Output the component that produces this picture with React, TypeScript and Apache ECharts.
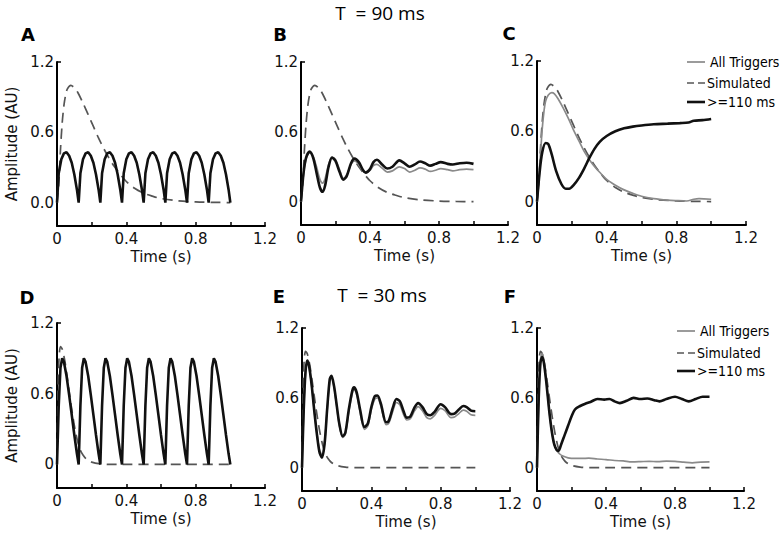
import React, { useEffect, useRef } from "react";
import * as echarts from "echarts";

// ---------- data ----------
const xTickLabels = [0, 0.4, 0.8, 1.2];
const yTickLabels = [0, 0.6, 1.2];
const panelLetters = ["A", "B", "C", "D", "E", "F"];
const legendNames = ["All Triggers", "Simulated", ">=110 ms"];
const titleTexts = ["T  = 90 ms", "T  = 30 ms"];

// simulated response, T = 90 ms (A, B, C)
const simulated90 = [
  [0, 0], [0.01, 0.15], [0.02, 0.45], [0.03, 0.68], [0.04, 0.83], [0.05, 0.92], [0.06, 0.97],
  [0.08, 1.0], [0.1, 0.98], [0.12, 0.94], [0.15, 0.85], [0.18, 0.75], [0.21, 0.65], [0.24, 0.55],
  [0.27, 0.46], [0.3, 0.38], [0.33, 0.31], [0.36, 0.25], [0.4, 0.18], [0.45, 0.12], [0.5, 0.08],
  [0.55, 0.055], [0.6, 0.035], [0.7, 0.015], [0.8, 0.006], [0.9, 0.002], [1.0, 0],
];

// simulated response, T = 30 ms (D, E, F)
const simulated30 = [
  [0, 0], [0.005, 0.5], [0.01, 0.85], [0.02, 1.0], [0.03, 0.98], [0.045, 0.88], [0.06, 0.73],
  [0.075, 0.57], [0.09, 0.42], [0.105, 0.29], [0.12, 0.19], [0.135, 0.12], [0.15, 0.08],
  [0.17, 0.045], [0.2, 0.02], [0.25, 0.005], [0.3, 0], [1.0, 0],
];

// A: periodic stimulus, T = 90 ms
const aTriggered = [
  [0, 0], [0.01, 0.25], [0.025, 0.37], [0.04, 0.42], [0.055, 0.43], [0.07, 0.4], [0.085, 0.34], [0.1, 0.24], [0.115, 0.11],
  [0.125, 0], [0.135, 0.25], [0.15, 0.37], [0.165, 0.42], [0.18, 0.43], [0.195, 0.4], [0.21, 0.34], [0.225, 0.24], [0.24, 0.11],
  [0.25, 0], [0.26, 0.25], [0.275, 0.37], [0.29, 0.42], [0.305, 0.43], [0.32, 0.4], [0.335, 0.34], [0.35, 0.24], [0.365, 0.11],
  [0.375, 0], [0.385, 0.25], [0.4, 0.37], [0.415, 0.42], [0.43, 0.43], [0.445, 0.4], [0.46, 0.34], [0.475, 0.24], [0.49, 0.11],
  [0.5, 0], [0.51, 0.25], [0.525, 0.37], [0.54, 0.42], [0.555, 0.43], [0.57, 0.4], [0.585, 0.34], [0.6, 0.24], [0.615, 0.11],
  [0.625, 0], [0.635, 0.25], [0.65, 0.37], [0.665, 0.42], [0.68, 0.43], [0.695, 0.4], [0.71, 0.34], [0.725, 0.24], [0.74, 0.11],
  [0.75, 0], [0.76, 0.25], [0.775, 0.37], [0.79, 0.42], [0.805, 0.43], [0.82, 0.4], [0.835, 0.34], [0.85, 0.24], [0.865, 0.11],
  [0.875, 0], [0.885, 0.25], [0.9, 0.37], [0.915, 0.42], [0.93, 0.43], [0.945, 0.4], [0.96, 0.34], [0.975, 0.24], [0.99, 0.11],
  [1.0, 0],
];

const bAll = [
  [0, 0], [0.015, 0.24], [0.03, 0.37], [0.05, 0.42], [0.07, 0.39], [0.09, 0.3], [0.11, 0.19], [0.125, 0.16],
  [0.14, 0.2], [0.16, 0.32], [0.18, 0.38], [0.2, 0.36], [0.225, 0.27], [0.245, 0.2], [0.265, 0.23], [0.29, 0.32],
  [0.31, 0.35], [0.335, 0.32], [0.36, 0.26], [0.375, 0.25], [0.4, 0.27], [0.42, 0.31], [0.44, 0.32], [0.47, 0.29],
  [0.5, 0.255], [0.53, 0.265], [0.57, 0.3], [0.6, 0.285], [0.63, 0.255], [0.66, 0.27], [0.69, 0.29], [0.72, 0.28],
  [0.75, 0.26], [0.78, 0.27], [0.81, 0.285], [0.85, 0.275], [0.88, 0.265], [0.92, 0.275], [0.96, 0.28], [1.0, 0.275],
];
const bTriggered = [
  [0, 0], [0.015, 0.25], [0.03, 0.38], [0.05, 0.43], [0.07, 0.38], [0.09, 0.25], [0.11, 0.12], [0.125, 0.085],
  [0.14, 0.14], [0.16, 0.3], [0.18, 0.38], [0.2, 0.35], [0.225, 0.25], [0.245, 0.19], [0.265, 0.22], [0.29, 0.33],
  [0.31, 0.37], [0.335, 0.34], [0.36, 0.27], [0.375, 0.25], [0.4, 0.28], [0.42, 0.34], [0.44, 0.36], [0.47, 0.32],
  [0.5, 0.285], [0.53, 0.3], [0.57, 0.355], [0.6, 0.33], [0.63, 0.3], [0.66, 0.32], [0.69, 0.345], [0.72, 0.33],
  [0.75, 0.31], [0.78, 0.325], [0.81, 0.34], [0.85, 0.325], [0.88, 0.32], [0.92, 0.33], [0.96, 0.335], [1.0, 0.325],
];

const cAll = [
  [0, 0], [0.01, 0.15], [0.02, 0.4], [0.03, 0.62], [0.04, 0.77], [0.05, 0.86], [0.065, 0.91], [0.085, 0.93],
  [0.1, 0.92], [0.12, 0.88], [0.15, 0.8], [0.18, 0.71], [0.21, 0.61], [0.24, 0.52], [0.27, 0.43], [0.3, 0.36],
  [0.33, 0.3], [0.36, 0.25], [0.4, 0.19], [0.45, 0.14], [0.5, 0.1], [0.55, 0.07], [0.6, 0.045], [0.67, 0.025],
  [0.75, 0.012], [0.8, 0.008], [0.86, 0.005], [0.9, 0.02], [0.93, 0.025], [1.0, 0.02],
];
const cTriggered = [
  [0, 0], [0.015, 0.25], [0.03, 0.42], [0.05, 0.5], [0.065, 0.49], [0.085, 0.4], [0.11, 0.26], [0.14, 0.15],
  [0.165, 0.11], [0.185, 0.11], [0.21, 0.14], [0.24, 0.2], [0.27, 0.28], [0.3, 0.37], [0.33, 0.45], [0.36, 0.51],
  [0.4, 0.56], [0.45, 0.6], [0.5, 0.625], [0.55, 0.64], [0.6, 0.65], [0.67, 0.66], [0.75, 0.665], [0.82, 0.67],
  [0.87, 0.675], [0.9, 0.69], [0.95, 0.695], [1.0, 0.705],
];

// D: periodic stimulus, T = 30 ms
const dTriggered = [
  [0, 0], [0.01, 0.5], [0.02, 0.82], [0.03, 0.9], [0.04, 0.87], [0.055, 0.75], [0.07, 0.59], [0.085, 0.42], [0.1, 0.25], [0.115, 0.09],
  [0.125, 0], [0.135, 0.5], [0.145, 0.82], [0.155, 0.9], [0.165, 0.87], [0.18, 0.75], [0.195, 0.59], [0.21, 0.42], [0.225, 0.25], [0.24, 0.09],
  [0.25, 0], [0.26, 0.5], [0.27, 0.82], [0.28, 0.9], [0.29, 0.87], [0.305, 0.75], [0.32, 0.59], [0.335, 0.42], [0.35, 0.25], [0.365, 0.09],
  [0.375, 0], [0.385, 0.5], [0.395, 0.82], [0.405, 0.9], [0.415, 0.87], [0.43, 0.75], [0.445, 0.59], [0.46, 0.42], [0.475, 0.25], [0.49, 0.09],
  [0.5, 0], [0.51, 0.5], [0.52, 0.82], [0.53, 0.9], [0.54, 0.87], [0.555, 0.75], [0.57, 0.59], [0.585, 0.42], [0.6, 0.25], [0.615, 0.09],
  [0.625, 0], [0.635, 0.5], [0.645, 0.82], [0.655, 0.9], [0.665, 0.87], [0.68, 0.75], [0.695, 0.59], [0.71, 0.42], [0.725, 0.25], [0.74, 0.09],
  [0.75, 0], [0.76, 0.5], [0.77, 0.82], [0.78, 0.9], [0.79, 0.87], [0.805, 0.75], [0.82, 0.59], [0.835, 0.42], [0.85, 0.25], [0.865, 0.09],
  [0.875, 0], [0.885, 0.5], [0.895, 0.82], [0.905, 0.9], [0.915, 0.87], [0.93, 0.75], [0.945, 0.59], [0.96, 0.42], [0.975, 0.25], [0.99, 0.09],
  [1.0, 0],
];

const eAll = [
  [0, 0], [0.01, 0.5], [0.02, 0.8], [0.03, 0.9], [0.04, 0.87], [0.055, 0.71], [0.07, 0.5], [0.085, 0.31], [0.1, 0.16],
  [0.115, 0.11], [0.13, 0.21], [0.145, 0.49], [0.16, 0.74], [0.17, 0.77], [0.185, 0.69], [0.2, 0.53], [0.215, 0.37],
  [0.235, 0.26], [0.25, 0.29], [0.27, 0.48], [0.29, 0.64], [0.3, 0.67], [0.315, 0.63], [0.335, 0.48], [0.36, 0.33],
  [0.38, 0.36], [0.4, 0.5], [0.42, 0.59], [0.435, 0.6], [0.455, 0.53], [0.485, 0.37], [0.5, 0.38], [0.525, 0.49],
  [0.545, 0.56], [0.565, 0.54], [0.585, 0.46], [0.605, 0.41], [0.625, 0.42], [0.65, 0.49], [0.67, 0.525], [0.695, 0.49],
  [0.72, 0.43], [0.74, 0.42], [0.765, 0.45], [0.8, 0.51], [0.825, 0.49], [0.86, 0.43], [0.88, 0.435], [0.905, 0.465],
  [0.93, 0.495], [0.95, 0.485], [0.975, 0.455], [1.0, 0.45],
];
const eTriggered = [
  [0, 0], [0.01, 0.5], [0.02, 0.82], [0.03, 0.92], [0.04, 0.88], [0.055, 0.72], [0.07, 0.5], [0.085, 0.3], [0.1, 0.14],
  [0.115, 0.085], [0.13, 0.2], [0.145, 0.5], [0.16, 0.76], [0.17, 0.79], [0.185, 0.7], [0.2, 0.54], [0.215, 0.38],
  [0.235, 0.27], [0.25, 0.3], [0.27, 0.5], [0.29, 0.66], [0.3, 0.69], [0.315, 0.65], [0.335, 0.5], [0.36, 0.35],
  [0.38, 0.38], [0.4, 0.52], [0.42, 0.615], [0.435, 0.62], [0.455, 0.55], [0.485, 0.39], [0.5, 0.4], [0.525, 0.52],
  [0.545, 0.59], [0.565, 0.57], [0.585, 0.49], [0.605, 0.43], [0.625, 0.44], [0.65, 0.52], [0.67, 0.555], [0.695, 0.52],
  [0.72, 0.46], [0.74, 0.45], [0.765, 0.48], [0.8, 0.545], [0.825, 0.52], [0.86, 0.46], [0.88, 0.465], [0.905, 0.5],
  [0.93, 0.53], [0.95, 0.52], [0.975, 0.49], [1.0, 0.485],
];

const fAll = [
  [0, 0], [0.01, 0.6], [0.02, 0.92], [0.03, 0.98], [0.04, 0.92], [0.055, 0.73], [0.07, 0.5], [0.085, 0.32], [0.1, 0.2],
  [0.115, 0.15], [0.13, 0.12], [0.15, 0.1], [0.18, 0.085], [0.22, 0.08], [0.26, 0.08], [0.3, 0.082], [0.35, 0.075],
  [0.4, 0.07], [0.45, 0.062], [0.5, 0.058], [0.55, 0.05], [0.6, 0.052], [0.65, 0.055], [0.7, 0.052], [0.75, 0.056],
  [0.8, 0.055], [0.85, 0.048], [0.9, 0.042], [0.95, 0.048], [1.0, 0.05],
];
const fTriggered = [
  [0, 0], [0.01, 0.6], [0.02, 0.9], [0.03, 0.95], [0.04, 0.9], [0.055, 0.72], [0.07, 0.5], [0.085, 0.32], [0.1, 0.2],
  [0.115, 0.15], [0.125, 0.145], [0.14, 0.2], [0.16, 0.28], [0.18, 0.36], [0.2, 0.44], [0.22, 0.5], [0.25, 0.53],
  [0.28, 0.55], [0.31, 0.565], [0.35, 0.59], [0.39, 0.585], [0.42, 0.59], [0.45, 0.57], [0.48, 0.555], [0.52, 0.575],
  [0.56, 0.6], [0.6, 0.59], [0.64, 0.595], [0.68, 0.58], [0.71, 0.57], [0.75, 0.59], [0.8, 0.61], [0.84, 0.59],
  [0.88, 0.57], [0.92, 0.59], [0.96, 0.61], [1.0, 0.61],
];

// ---------- styling / layout ----------
const FONT = '"DejaVu Sans", Verdana, sans-serif';
const LEGEND_FONT = '"DejaVu Sans Condensed", "DejaVu Sans", sans-serif';
const GRAY = "#8a8a8a";
const DASH = "#555555";
const BLACK = "#111111";

const grids = [
  { left: 57, top: 62, width: 208, height: 164 },
  { left: 301, top: 62, width: 207, height: 163 },
  { left: 537, top: 61, width: 209, height: 164 },
  { left: 57, top: 323, width: 208, height: 165 },
  { left: 302, top: 328, width: 208, height: 163 },
  { left: 537, top: 328, width: 207, height: 163 },
];
const letterPos = [
  [28, 34], [280, 34], [509, 33], [27, 297], [279, 296], [510, 296],
];
const titlePos = [[380, 13], [382, 295]];
const legendPos = [
  { x: 687, len: 18, ys: [62, 83, 102] },
  { x: 677, len: 18, ys: [331, 353, 371] },
];

const fmt = (v: number, zeroText: string) => {
  const r = Math.round(v * 10);
  if (r === 0) return zeroText;
  return (r / 10).toFixed(1);
};

export default function App() {
  const ref = useRef<HTMLDivElement>(null);

  useEffect(() => {
    if (!ref.current) return;
    const chart = echarts.init(ref.current, null, { renderer: "svg" });

    const xAxes = grids.map((_, i) => ({
      type: "value",
      gridIndex: i,
      min: 0,
      max: 1.2,
      interval: 0.2,
      name: "Time (s)",
      nameLocation: "middle",
      nameGap: 23,
      nameTextStyle: { fontFamily: FONT, fontSize: 15, color: "#111" },
      axisLine: { onZero: false, lineStyle: { color: "#000", width: 2 } },
      axisTick: { show: true, inside: true, length: 4, lineStyle: { color: "#000", width: 1.5 } },
      axisLabel: {
        customValues: xTickLabels,
        formatter: (v: number) => fmt(v, "0"),
        fontFamily: FONT,
        fontSize: 15,
        color: "#111",
        margin: 5,
      },
      splitLine: { show: false },
    }));

    const yAxes = grids.map((_, i) => ({
      type: "value",
      gridIndex: i,
      min: -0.2,
      max: 1.2,
      interval: 0.2,
      name: i === 0 || i === 3 ? "Amplitude (AU)" : "",
      nameLocation: "middle",
      nameGap: 38,
      nameTextStyle: { fontFamily: FONT, fontSize: 15, color: "#111" },
      axisLine: { onZero: false, lineStyle: { color: "#000", width: 2 } },
      axisTick: { show: true, inside: true, length: 4, customValues: [1.2], lineStyle: { color: "#000", width: 1.5 } },
      axisLabel: {
        customValues: yTickLabels,
        formatter: (v: number) => fmt(v, i === 0 ? "0.0" : "0"),
        fontFamily: FONT,
        fontSize: 15,
        color: "#111",
        margin: 3,
      },
      splitLine: { show: false },
    }));

    const dashed = (data: number[][], idx: number) => ({
      type: "line",
      xAxisIndex: idx,
      yAxisIndex: idx,
      data,
      showSymbol: false,
      smooth: 0.3,
      lineStyle: { color: DASH, width: 1.7, type: [10, 6] },
      z: 2,
    });
    const gray = (data: number[][], idx: number) => ({
      type: "line",
      xAxisIndex: idx,
      yAxisIndex: idx,
      data,
      showSymbol: false,
      smooth: 0.3,
      lineStyle: { color: GRAY, width: 1.7 },
      z: 3,
    });
    const black = (data: number[][], idx: number, smooth: number | boolean) => ({
      type: "line",
      xAxisIndex: idx,
      yAxisIndex: idx,
      data,
      showSymbol: false,
      smooth,
      lineStyle: { color: BLACK, width: 2.6 },
      z: 4,
    });

    const series = [
      dashed(simulated90, 0), black(aTriggered, 0, false),
      dashed(simulated90, 1), gray(bAll, 1), black(bTriggered, 1, 0.3),
      dashed(simulated90, 2), gray(cAll, 2), black(cTriggered, 2, 0.3),
      dashed(simulated30, 3), black(dTriggered, 3, false),
      dashed(simulated30, 4), gray(eAll, 4), black(eTriggered, 4, 0.3),
      dashed(simulated30, 5), gray(fAll, 5), black(fTriggered, 5, 0.3),
    ];

    const textEl = (x: number, y: number, text: string, font: string, align = "center") => ({
      type: "text",
      x,
      y,
      silent: true,
      style: {
        text,
        font,
        fill: "#000",
        align,
        verticalAlign: "middle",
        textAlign: align,
        textVerticalAlign: "middle",
      },
    });

    const graphics: any[] = [];
    panelLetters.forEach((l, i) => {
      graphics.push(textEl(letterPos[i][0], letterPos[i][1], l, 'bold 18px "DejaVu Sans", Verdana, sans-serif'));
    });
    titleTexts.forEach((t, i) => {
      graphics.push(textEl(titlePos[i][0], titlePos[i][1], t, '19px "Open Sans", "Noto Sans", sans-serif'));
    });
    legendPos.forEach((lp) => {
      const styles = [
        { stroke: GRAY, lineWidth: 1.7 },
        { stroke: DASH, lineWidth: 1.7, lineDash: [7, 4] },
        { stroke: BLACK, lineWidth: 2.6 },
      ];
      legendNames.forEach((name, k) => {
        graphics.push({
          type: "line",
          silent: true,
          shape: { x1: lp.x, y1: lp.ys[k], x2: lp.x + lp.len, y2: lp.ys[k] },
          style: styles[k],
        });
        graphics.push(textEl(lp.x + lp.len + (k === 0 ? 5 : 2), lp.ys[k], name, `14px ${LEGEND_FONT}`, "left"));
      });
    });

    chart.setOption({
      animation: false,
      backgroundColor: "#fff",
      grid: grids.map((g) => ({ ...g, containLabel: false })),
      xAxis: xAxes,
      yAxis: yAxes,
      series,
      graphic: { elements: graphics },
    });

    return () => chart.dispose();
  }, []);

  return (
    <div
      ref={ref}
      style={{ position: "absolute", left: 0, top: 0, width: 784, height: 538, background: "#fff" }}
    />
  );
}
